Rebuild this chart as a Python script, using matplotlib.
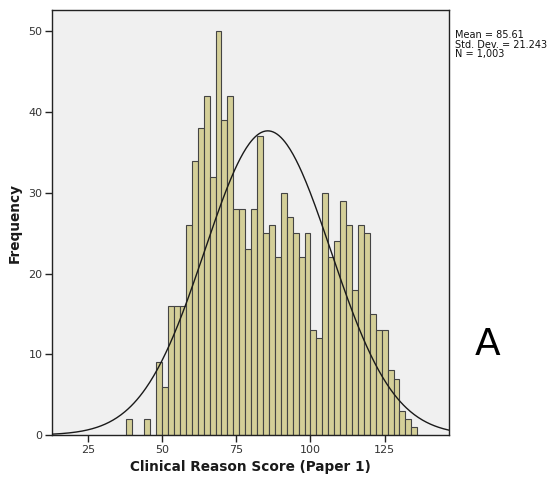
import numpy as np
import matplotlib
matplotlib.use("Agg")
import matplotlib.pyplot as plt

# Histogram of scores, bins of width 2 (left edges)
bin_left = [38, 44] + list(range(48, 136, 2))
counts = [2, 2,
          9, 6, 16, 16, 16, 26, 34, 38, 42, 32, 50, 39, 42,
          28, 28, 23, 28, 37, 25, 26, 22, 30, 27, 25, 22, 25,
          13, 12, 30, 22, 24, 29, 26, 18, 26, 25,
          15, 13, 13, 8, 7, 3, 2, 1]
bin_width = 2
mean = 85.61
std_dev = 21.243
n_total = 1003

x_ticks = [25, 50, 75, 100, 125]
y_ticks = [0, 10, 20, 30, 40, 50]

fig = plt.figure(figsize=(5.53, 4.80), dpi=100)
ax = fig.add_axes([0.0946, 0.0937, 0.7179, 0.8848])
ax.set_facecolor("#f0f0f0")

ax.bar(bin_left, counts, width=bin_width, align="edge",
       color="#d4cf98", edgecolor="#444444", linewidth=0.8, zorder=2)

xlim = (13.0, 146.8)
xs = np.linspace(xlim[0], xlim[1], 400)
pdf = n_total * bin_width / (std_dev * np.sqrt(2 * np.pi)) * np.exp(-0.5 * ((xs - mean) / std_dev) ** 2)
ax.plot(xs, pdf, color="#1a1a1a", linewidth=1.0, zorder=3)

ax.set_xlim(*xlim)
ax.set_ylim(0, 52.6)
ax.set_xticks(x_ticks)
ax.set_yticks(y_ticks)
ax.tick_params(axis="both", direction="out", length=5, width=1, colors="#222222",
               labelsize=8, labelcolor="#333333", pad=2)
for s in ax.spines.values():
    s.set_color("#222222")
    s.set_linewidth(1.0)

ax.set_xlabel("Clinical Reason Score (Paper 1)", fontsize=9.8, fontweight="bold",
              color="#1a1a1a", labelpad=4)
ax.set_ylabel("Frequency", fontsize=9.8, fontweight="bold", color="#1a1a1a", labelpad=5)

fig.text(455 / 553, 1 - 30 / 480,
         "Mean = 85.61\nStd. Dev. = 21.243\nN = 1,003",
         fontsize=7, va="top", ha="left", linespacing=0.95, color="#111111")

fig.text(488 / 553, 1 - 345 / 480, "A", fontsize=27, ha="center", va="center",
         color="#000000")

fig.savefig("out.png", dpi=100)
